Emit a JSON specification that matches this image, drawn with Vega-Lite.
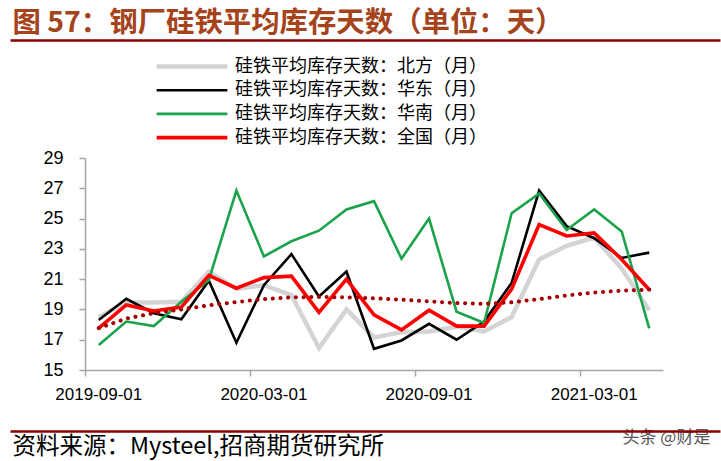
{
  "$schema": "https://vega.github.io/schema/vega-lite/v6.json",
  "width": 578,
  "height": 212,
  "autosize": "none",
  "padding": {"left": 85, "top": 158, "right": 58, "bottom": 91},
  "background": "white",
  "config": {"view": {"stroke": null}, "axisY": {"labelOverlap": false}},
  "datasets": {
    "rows": [
      {"date": "2019-09-01", "series": "北方", "value": 18.5},
      {"date": "2019-10-01", "series": "北方", "value": 19.45},
      {"date": "2019-11-01", "series": "北方", "value": 19.45},
      {"date": "2019-12-01", "series": "北方", "value": 19.5},
      {"date": "2020-01-01", "series": "北方", "value": 21.5},
      {"date": "2020-02-01", "series": "北方", "value": 20.35},
      {"date": "2020-03-01", "series": "北方", "value": 20.6},
      {"date": "2020-04-01", "series": "北方", "value": 19.95},
      {"date": "2020-05-01", "series": "北方", "value": 16.45},
      {"date": "2020-06-01", "series": "北方", "value": 19.0},
      {"date": "2020-07-01", "series": "北方", "value": 17.15},
      {"date": "2020-08-01", "series": "北方", "value": 17.5},
      {"date": "2020-09-01", "series": "北方", "value": 17.55},
      {"date": "2020-10-01", "series": "北方", "value": 17.85},
      {"date": "2020-11-01", "series": "北方", "value": 17.55},
      {"date": "2020-12-01", "series": "北方", "value": 18.5},
      {"date": "2021-01-01", "series": "北方", "value": 22.3},
      {"date": "2021-02-01", "series": "北方", "value": 23.2},
      {"date": "2021-03-01", "series": "北方", "value": 23.75},
      {"date": "2021-04-01", "series": "北方", "value": 21.7},
      {"date": "2021-05-01", "series": "北方", "value": 18.95},
      {"date": "2019-09-01", "series": "华东", "value": 18.3},
      {"date": "2019-10-01", "series": "华东", "value": 19.7},
      {"date": "2019-11-01", "series": "华东", "value": 18.75},
      {"date": "2019-12-01", "series": "华东", "value": 18.35},
      {"date": "2020-01-01", "series": "华东", "value": 20.9},
      {"date": "2020-02-01", "series": "华东", "value": 16.8},
      {"date": "2020-03-01", "series": "华东", "value": 20.6},
      {"date": "2020-04-01", "series": "华东", "value": 22.65},
      {"date": "2020-05-01", "series": "华东", "value": 19.85},
      {"date": "2020-06-01", "series": "华东", "value": 21.5},
      {"date": "2020-07-01", "series": "华东", "value": 16.4},
      {"date": "2020-08-01", "series": "华东", "value": 16.95},
      {"date": "2020-09-01", "series": "华东", "value": 18.05},
      {"date": "2020-10-01", "series": "华东", "value": 17.0},
      {"date": "2020-11-01", "series": "华东", "value": 18.2},
      {"date": "2020-12-01", "series": "华东", "value": 20.75},
      {"date": "2021-01-01", "series": "华东", "value": 26.85},
      {"date": "2021-02-01", "series": "华东", "value": 24.5},
      {"date": "2021-03-01", "series": "华东", "value": 23.7},
      {"date": "2021-04-01", "series": "华东", "value": 22.4},
      {"date": "2021-05-01", "series": "华东", "value": 22.75},
      {"date": "2019-09-01", "series": "华南", "value": 16.65},
      {"date": "2019-10-01", "series": "华南", "value": 18.2},
      {"date": "2019-11-01", "series": "华南", "value": 17.9},
      {"date": "2019-12-01", "series": "华南", "value": 19.5},
      {"date": "2020-01-01", "series": "华南", "value": 20.95},
      {"date": "2020-02-01", "series": "华南", "value": 26.85},
      {"date": "2020-03-01", "series": "华南", "value": 22.5},
      {"date": "2020-04-01", "series": "华南", "value": 23.5},
      {"date": "2020-05-01", "series": "华南", "value": 24.2},
      {"date": "2020-06-01", "series": "华南", "value": 25.6},
      {"date": "2020-07-01", "series": "华南", "value": 26.15},
      {"date": "2020-08-01", "series": "华南", "value": 22.35},
      {"date": "2020-09-01", "series": "华南", "value": 25.0},
      {"date": "2020-10-01", "series": "华南", "value": 18.85},
      {"date": "2020-11-01", "series": "华南", "value": 18.1},
      {"date": "2020-12-01", "series": "华南", "value": 25.35},
      {"date": "2021-01-01", "series": "华南", "value": 26.65},
      {"date": "2021-02-01", "series": "华南", "value": 24.25},
      {"date": "2021-03-01", "series": "华南", "value": 25.6},
      {"date": "2021-04-01", "series": "华南", "value": 24.15},
      {"date": "2021-05-01", "series": "华南", "value": 17.75},
      {"date": "2019-09-01", "series": "全国", "value": 17.76},
      {"date": "2019-10-01", "series": "全国", "value": 19.3},
      {"date": "2019-11-01", "series": "全国", "value": 18.9},
      {"date": "2019-12-01", "series": "全国", "value": 19.15},
      {"date": "2020-01-01", "series": "全国", "value": 21.25},
      {"date": "2020-02-01", "series": "全国", "value": 20.4},
      {"date": "2020-03-01", "series": "全国", "value": 21.1},
      {"date": "2020-04-01", "series": "全国", "value": 21.2},
      {"date": "2020-05-01", "series": "全国", "value": 18.8},
      {"date": "2020-06-01", "series": "全国", "value": 21.0},
      {"date": "2020-07-01", "series": "全国", "value": 18.65},
      {"date": "2020-08-01", "series": "全国", "value": 17.65},
      {"date": "2020-09-01", "series": "全国", "value": 18.95},
      {"date": "2020-10-01", "series": "全国", "value": 17.9},
      {"date": "2020-11-01", "series": "全国", "value": 17.9},
      {"date": "2020-12-01", "series": "全国", "value": 20.35},
      {"date": "2021-01-01", "series": "全国", "value": 24.6},
      {"date": "2021-02-01", "series": "全国", "value": 23.85},
      {"date": "2021-03-01", "series": "全国", "value": 24.05},
      {"date": "2021-04-01", "series": "全国", "value": 22.3},
      {"date": "2021-05-01", "series": "全国", "value": 20.3}
    ],
    "trend": [
      {"date": "2019-09-01", "value": 17.76},
      {"date": "2019-10-01", "value": 18.4},
      {"date": "2019-11-01", "value": 18.75},
      {"date": "2019-12-01", "value": 19.0},
      {"date": "2020-01-01", "value": 19.27},
      {"date": "2020-02-01", "value": 19.49},
      {"date": "2020-03-01", "value": 19.68},
      {"date": "2020-04-01", "value": 19.8},
      {"date": "2020-05-01", "value": 19.82},
      {"date": "2020-06-01", "value": 19.8},
      {"date": "2020-07-01", "value": 19.74},
      {"date": "2020-08-01", "value": 19.64},
      {"date": "2020-09-01", "value": 19.53},
      {"date": "2020-10-01", "value": 19.42},
      {"date": "2020-11-01", "value": 19.37},
      {"date": "2020-12-01", "value": 19.47},
      {"date": "2021-01-01", "value": 19.68},
      {"date": "2021-02-01", "value": 19.92},
      {"date": "2021-03-01", "value": 20.12},
      {"date": "2021-04-01", "value": 20.24},
      {"date": "2021-05-01", "value": 20.31}
    ]
  },
  "layer": [
    {
      "encoding": {
        "x": {
          "field": "date", "type": "ordinal", "sort": null,
          "scale": {"type": "band", "paddingInner": 0, "paddingOuter": 0},
          "axis": {
            "values": ["2019-09-01", "2020-03-01", "2020-09-01", "2021-03-01"],
            "bandPosition": 0,
            "labelAngle": 0,
            "labelFont": "Liberation Sans",
            "labelFontSize": 17,
            "labelColor": "#000000",
            "labelPadding": 10,
            "labelOverlap": false,
            "tickSize": 6,
            "tickColor": "#a6a6a6",
            "tickWidth": 1.5,
            "domainColor": "#a6a6a6",
            "domainWidth": 1.5,
            "grid": false,
            "title": "头条 @财是",
            "titleFont": "Noto Sans CJK SC",
            "titleFontSize": 17,
            "titleFontWeight": "normal",
            "titleColor": "#555555",
            "titleX": 537,
            "titleY": 72,
            "titleAlign": "left",
            "titleBaseline": "alphabetic",
            "titleAngle": 0
          }
        },
        "y": {
          "field": "value", "type": "quantitative",
          "scale": {"domain": [15, 29], "nice": false, "zero": false},
          "axis": {
            "values": [15, 17, 19, 21, 23, 25, 27, 29],
            "title": null,
            "grid": false,
            "labelOverlap": false,
            "labelFlush": false,
            "labelFont": "Liberation Sans",
            "labelFontSize": 18,
            "labelColor": "#000000",
            "labelPadding": 16,
            "tickSize": 6,
            "tickColor": "#a6a6a6",
            "tickWidth": 1.5,
            "domainColor": "#a6a6a6",
            "domainWidth": 1.5
          }
        }
      },
      "layer": [
        {
          "data": {"name": "rows"},
          "mark": {"type": "line", "strokeJoin": "miter"},
          "encoding": {
            "color": {
              "field": "series", "type": "nominal",
              "scale": {
                "domain": ["北方", "华东", "华南", "全国"],
                "range": ["#d4d4d4", "#000000", "#1aa34a", "#ff0000"]
              },
              "legend": {
                "orient": "none",
                "legendX": 69,
                "legendY": -101,
                "title": null,
                "padding": 0,
                "symbolType": "stroke",
                "symbolSize": 5000,
                "clipHeight": 19,
                "labelFont": "Noto Sans CJK SC",
                "labelFontSize": 18,
                "labelColor": "#000000",
                "labelOffset": 5,
                "labelLimit": 500,
                "rowPadding": 4.7,
                "labelExpr": "'硅铁平均库存天数：' + datum.label + '（月）'"
              }
            },
            "strokeWidth": {
              "field": "series", "type": "nominal",
              "scale": {
                "type": "ordinal",
                "domain": ["北方", "华东", "华南", "全国"],
                "range": [4.5, 2.6, 2.6, 3.6]
              },
              "legend": null
            }
          }
        },
        {
          "data": {"name": "trend"},
          "mark": {"type": "line", "color": "#a50000", "strokeWidth": 4, "strokeCap": "round", "strokeDash": [0.1, 7.6]},
          "encoding": {}
        }
      ]
    },
    {
      "data": {"name": "trend"},
      "mark": {"type": "point", "opacity": 0},
      "encoding": {
        "x": {
          "field": "date", "type": "ordinal", "sort": null,
          "scale": {"type": "point", "range": [-75, 635]},
          "axis": {
            "orient": "top",
            "offset": 118,
            "domainColor": "#8b0000",
            "domainWidth": 2.5,
            "ticks": false,
            "labels": false,
            "grid": false,
            "title": "图 57：钢厂硅铁平均库存天数（单位：天）",
            "titleFont": "Noto Sans CJK SC",
            "titleFontSize": 28.4,
            "titleFontWeight": "bold",
            "titleColor": "#a5441c",
            "titleX": -73,
            "titleY": -9,
            "titleAlign": "left",
            "titleBaseline": "alphabetic",
            "titleAngle": 0
          }
        }
      }
    },
    {
      "data": {"name": "trend"},
      "mark": {"type": "point", "opacity": 0},
      "encoding": {
        "x": {
          "field": "date", "type": "ordinal", "sort": null,
          "scale": {"type": "point", "range": [-75, 635]},
          "axis": {
            "orient": "bottom",
            "offset": 61,
            "domainColor": "#8b0000",
            "domainWidth": 2.5,
            "ticks": false,
            "labels": false,
            "grid": false,
            "title": "资料来源：Mysteel,招商期货研究所",
            "titleFont": "Noto Sans CJK SC",
            "titleFontSize": 23.5,
            "titleFontWeight": "normal",
            "titleColor": "#000000",
            "titleX": -73,
            "titleY": 22,
            "titleAlign": "left",
            "titleBaseline": "alphabetic",
            "titleAngle": 0
          }
        }
      }
    }
  ],
  "resolve": {"scale": {"x": "independent"}, "axis": {"x": "independent"}}
}
